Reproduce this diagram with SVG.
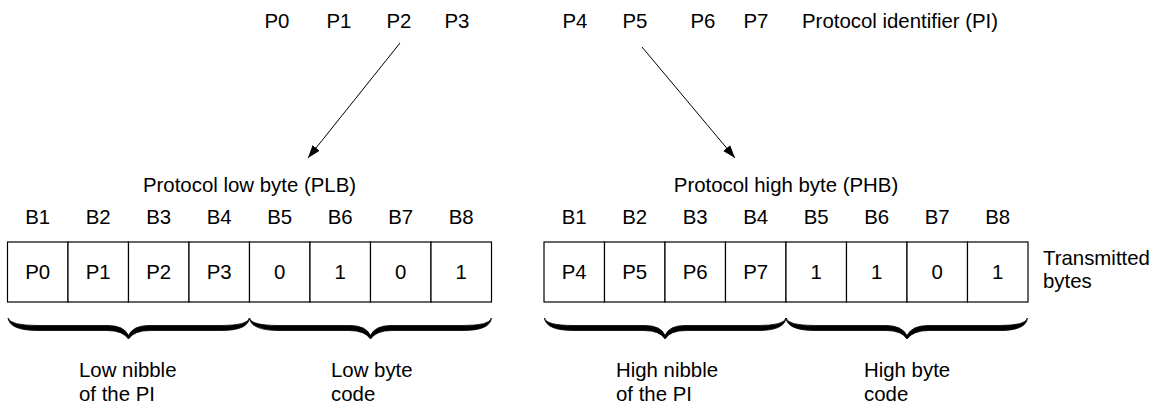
<svg xmlns="http://www.w3.org/2000/svg" width="1160" height="410" viewBox="0 0 1160 410">
  <style>
    text { font-family: "Liberation Sans", Arial, sans-serif; font-size: 20.4px; fill: #000; }
    .c { text-anchor: middle; }
    .cell { fill: #fff; stroke: #000; stroke-width: 1.2; }
    .brace { fill: #000; stroke: #000; stroke-width: 0.8; stroke-linejoin: round; }
    .conn { stroke: #000; stroke-width: 1; fill: none; }
  </style>
  <defs>
    <marker id="arrow" markerUnits="userSpaceOnUse" markerWidth="14" markerHeight="10" refX="13" refY="5" orient="auto">
      <path d="M0,0.5 L13,5 L0,9.5 Z" fill="#000"/>
    </marker>
  </defs>

  <rect width="1160" height="410" fill="#fff"/>

  <!-- protocol identifier bits -->
  <g id="pi">
    <text class="c" x="277" y="28">P0</text>
    <text class="c" x="339" y="28">P1</text>
    <text class="c" x="399" y="28">P2</text>
    <text class="c" x="457" y="28">P3</text>
    <text class="c" x="575" y="28">P4</text>
    <text class="c" x="635" y="28">P5</text>
    <text class="c" x="703" y="28">P6</text>
    <text class="c" x="756" y="28">P7</text>
    <text x="802" y="28">Protocol identifier (PI)</text>
  </g>

  <!-- connectors -->
  <g id="connectors">
    <line class="conn" x1="400" y1="43" x2="308" y2="158" marker-end="url(#arrow)"/>
    <line class="conn" x1="642" y1="47" x2="735" y2="158" marker-end="url(#arrow)"/>
  </g>

  <!-- protocol low byte -->
  <g id="plb">
    <text class="c" x="249.5" y="192">Protocol low byte (PLB)</text>
    <g class="c">
      <text x="37.75" y="224">B1</text>
      <text x="98.25" y="224">B2</text>
      <text x="158.75" y="224">B3</text>
      <text x="219.25" y="224">B4</text>
      <text x="279.75" y="224">B5</text>
      <text x="340.25" y="224">B6</text>
      <text x="400.75" y="224">B7</text>
      <text x="461.25" y="224">B8</text>
    </g>
    <rect class="cell" x="7.5" y="242" width="60.5" height="60"/>
    <rect class="cell" x="68" y="242" width="60.5" height="60"/>
    <rect class="cell" x="128.5" y="242" width="60.5" height="60"/>
    <rect class="cell" x="189" y="242" width="60.5" height="60"/>
    <rect class="cell" x="249.5" y="242" width="60.5" height="60"/>
    <rect class="cell" x="310" y="242" width="60.5" height="60"/>
    <rect class="cell" x="370.5" y="242" width="60.5" height="60"/>
    <rect class="cell" x="431" y="242" width="60.5" height="60"/>
    <g class="c">
      <text x="37.75" y="279">P0</text>
      <text x="98.25" y="279">P1</text>
      <text x="158.75" y="279">P2</text>
      <text x="219.25" y="279">P3</text>
      <text x="279.75" y="279">0</text>
      <text x="340.25" y="279">1</text>
      <text x="400.75" y="279">0</text>
      <text x="461.25" y="279">1</text>
    </g>
    <path class="brace" d="M8,318 Q10,325.5 38,325.5 L108,325.5 Q124,325.5 128.5,335.5 Q133,325.5 149,325.5 L221,325.5 Q248,325.5 249.5,318 Q248,330.5 221,330.5 L150,330.5 Q134,330.5 128.5,339 Q123,330.5 107,330.5 L38,330.5 Q10,330.5 8,318 Z"/>
    <path class="brace" d="M249.5,318 Q251,325.5 279,325.5 L350,325.5 Q366,325.5 370.5,335.5 Q375,325.5 391,325.5 L463,325.5 Q490,325.5 491.5,318 Q490,330.5 463,330.5 L392,330.5 Q376,330.5 370.5,339 Q365,330.5 349,330.5 L279,330.5 Q251,330.5 249.5,318 Z"/>
    <text x="79" y="377">Low nibble</text>
    <text x="79" y="401">of the PI</text>
    <text x="331" y="377">Low byte</text>
    <text x="331" y="401">code</text>
  </g>

  <!-- protocol high byte -->
  <g id="phb">
    <text class="c" x="786" y="192">Protocol high byte (PHB)</text>
    <g class="c">
      <text x="574.25" y="224">B1</text>
      <text x="634.75" y="224">B2</text>
      <text x="695.25" y="224">B3</text>
      <text x="755.75" y="224">B4</text>
      <text x="816.25" y="224">B5</text>
      <text x="876.75" y="224">B6</text>
      <text x="937.25" y="224">B7</text>
      <text x="997.75" y="224">B8</text>
    </g>
    <rect class="cell" x="544" y="242" width="60.5" height="60"/>
    <rect class="cell" x="604.5" y="242" width="60.5" height="60"/>
    <rect class="cell" x="665" y="242" width="60.5" height="60"/>
    <rect class="cell" x="725.5" y="242" width="60.5" height="60"/>
    <rect class="cell" x="786" y="242" width="60.5" height="60"/>
    <rect class="cell" x="846.5" y="242" width="60.5" height="60"/>
    <rect class="cell" x="907" y="242" width="60.5" height="60"/>
    <rect class="cell" x="967.5" y="242" width="60.5" height="60"/>
    <g class="c">
      <text x="574.25" y="279">P4</text>
      <text x="634.75" y="279">P5</text>
      <text x="695.25" y="279">P6</text>
      <text x="755.75" y="279">P7</text>
      <text x="816.25" y="279">1</text>
      <text x="876.75" y="279">1</text>
      <text x="937.25" y="279">0</text>
      <text x="997.75" y="279">1</text>
    </g>
    <path class="brace" d="M544.5,318 Q546,325.5 574,325.5 L645,325.5 Q661,325.5 665,335.5 Q669,325.5 685,325.5 L758,325.5 Q784.5,325.5 786,318 Q784.5,330.5 758,330.5 L686,330.5 Q670,330.5 665,339 Q660,330.5 644,330.5 L574,330.5 Q546,330.5 544.5,318 Z"/>
    <path class="brace" d="M786,318 Q787.5,325.5 815,325.5 L886,325.5 Q902,325.5 907,335.5 Q912,325.5 928,325.5 L1000,325.5 Q1026,325.5 1027.5,318 Q1026,330.5 1000,330.5 L929,330.5 Q913,330.5 907,339 Q902,330.5 886,330.5 L815,330.5 Q787.5,330.5 786,318 Z"/>
    <text x="616" y="377">High nibble</text>
    <text x="616" y="401">of the PI</text>
    <text x="864" y="377">High byte</text>
    <text x="864" y="401">code</text>
  </g>

  <g id="transmitted">
    <text x="1043" y="265">Transmitted</text>
    <text x="1043" y="288">bytes</text>
  </g>
</svg>
